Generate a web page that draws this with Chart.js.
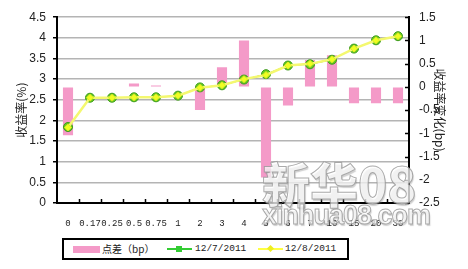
<!DOCTYPE html>
<html>
<head>
<meta charset="utf-8">
<script src="https://cdn.jsdelivr.net/npm/chart.js@4"></script>
<style>
  html,body{margin:0;padding:0;background:#fff;}
  #wrap{position:relative;width:468px;height:269px;overflow:hidden;}
  #legend{position:absolute;left:62px;top:238px;width:283px;height:18px;border:2px solid #000;background:#fff;font-size:10px;color:#222;}
  #legend .it{position:absolute;top:0;height:18px;line-height:18px;}
  #legend .mono{font-family:"Liberation Mono","DejaVu Sans Mono",monospace;font-size:9.5px;}
  .wm{position:absolute;font-family:"Noto Sans CJK SC",sans-serif;font-weight:900;color:rgba(255,255,255,.7);
      -webkit-text-stroke:1px rgba(150,150,150,.8);text-shadow:1px 2px 1px rgba(120,120,120,.35);pointer-events:none;white-space:nowrap;}
</style>
</head>
<body>
<div id="wrap">
  <canvas id="c" width="468" height="269"></canvas>
  <div id="legend">
    <div class="it" style="left:9px;top:6px;width:27px;height:7px;background:#f49ac8;"></div>
    <div class="it" style="left:38px;font-family:'Noto Sans CJK SC',sans-serif;">点差（bp）</div>
    <div class="it" style="left:103px;top:8px;width:25px;height:2px;background:#33cc33;"></div>
    <div class="it" style="left:112px;top:6px;width:6px;height:6px;background:#33cc33;"></div>
    <div class="it mono" style="left:131px;">12/7/2011</div>
    <div class="it" style="left:194px;top:8px;width:25px;height:2px;background:#ffff44;"></div>
    <div class="it" style="left:204px;top:6px;width:5px;height:5px;background:#eeee22;transform:rotate(45deg);"></div>
    <div class="it mono" style="left:221px;">12/8/2011</div>
  </div>
  <div class="wm" style="left:262px;top:147px;font-size:48px;letter-spacing:0px;">新华08</div>
  <div class="wm" style="left:262px;top:200px;font-size:27px;letter-spacing:-1px;font-family:'Liberation Sans',sans-serif;">xinhua08.com</div>
</div>
<script>
// 期限
const tenors = ['0','0.17','0.25','0.5','0.75','1','2','3','4','5','6','7','10','15','20','30'];
// 点差 (bp)，右轴
const spreadBp = [-1.04, 0, 0, 0.07, 0.03, 0, -0.5, 0.42, 1.0, -1.95, -0.4, 0.58, 0.68, -0.35, -0.35, -0.35];
// 收益率 (%)
const yield1207 = [1.84, 2.55, 2.55, 2.56, 2.56, 2.60, 2.80, 2.85, 2.99, 3.12, 3.33, 3.36, 3.47, 3.74, 3.94, 4.04];
const yield1208 = [1.83, 2.55, 2.55, 2.56, 2.56, 2.60, 2.79, 2.85, 3.00, 3.10, 3.33, 3.37, 3.48, 3.74, 3.94, 4.04];

const fmt = v => String(Math.round(v*10)/10);

// 内侧刻度线
const innerTicks = {
  id:'innerTicks',
  afterDraw(chart){
    const ctx=chart.ctx, x=chart.scales.x, y1=chart.scales.y1, a=chart.chartArea;
    ctx.save(); ctx.strokeStyle='#000'; ctx.lineWidth=1.5;
    ctx.beginPath();
    for(let i=1;i<tenors.length;i++){
      const px=Math.round((x.getPixelForValue(i-1)+x.getPixelForValue(i))/2)+0.5;
      ctx.moveTo(px,a.bottom); ctx.lineTo(px,a.bottom-4);
    }
    y1.ticks.forEach(t=>{
      const py=Math.round(y1.getPixelForValue(t.value))+0.5;
      ctx.moveTo(a.right,py); ctx.lineTo(a.right-4,py);
    });
    ctx.stroke(); ctx.restore();
  }
};

new Chart(document.getElementById('c'),{
  data:{
    labels:tenors,
    datasets:[
      {type:'bar',label:'点差（bp）',data:spreadBp,yAxisID:'y1',backgroundColor:'#f49ac8',
       barPercentage:0.46,categoryPercentage:1,order:3},
      {type:'line',label:'12/7/2011',data:yield1207,yAxisID:'y',borderColor:'#55bb22',borderWidth:1,
       pointStyle:'circle',pointRadius:4.5,pointBackgroundColor:'#66cc22',pointBorderColor:'#3d9a1a',pointBorderWidth:1,
       tension:0,order:2},
      {type:'line',label:'12/8/2011',data:yield1208,yAxisID:'y',borderColor:'#f4f870',borderWidth:2.5,
       pointStyle:'rectRot',pointRadius:3.5,pointBackgroundColor:'#eeff22',pointBorderColor:'#dde820',pointBorderWidth:1,
       tension:0,order:1}
    ]
  },
  options:{
    responsive:false,animation:false,
    layout:{padding:{top:14,left:0,right:0,bottom:0}},
    plugins:{legend:{display:false},tooltip:{enabled:false}},
    scales:{
      x:{
        grid:{display:true,drawOnChartArea:false,drawTicks:false},
        border:{display:true,color:'#000',width:2},
        ticks:{autoSkip:false,maxRotation:0,minRotation:0,padding:15,color:'#222',
               font:{family:'Liberation Mono',size:9}},
        afterFit(s){ s.height=66; }
      },
      y:{
        position:'left',min:0,max:4.5,
        ticks:{stepSize:0.5,padding:7,color:'#222',font:{family:'Liberation Sans',size:12},callback:fmt},
        grid:{color:'#b4b4b4',lineWidth:1.5,tickColor:'#000',tickLength:4,tickWidth:1.5},
        border:{display:true,color:'#000',width:2},
        title:{display:true,text:'收益率(%)',color:'#222',font:{family:'Noto Sans CJK SC',size:12},padding:{top:14,bottom:0}},
        afterFit(s){ s.width=57; }
      },
      y1:{
        position:'right',min:-2.5,max:1.5,
        ticks:{stepSize:0.5,padding:10,color:'#222',font:{family:'Liberation Sans',size:12},callback:fmt},
        grid:{drawOnChartArea:false,drawTicks:false},
        border:{display:true,color:'#000',width:2},
        title:{display:true,text:'收益率变化(bp)',color:'#222',font:{family:'Noto Sans CJK SC',size:12},padding:{top:21,bottom:0}},
        afterFit(s){ s.width=59; }
      }
    }
  },
  plugins:[innerTicks]
});
</script>
</body>
</html>
